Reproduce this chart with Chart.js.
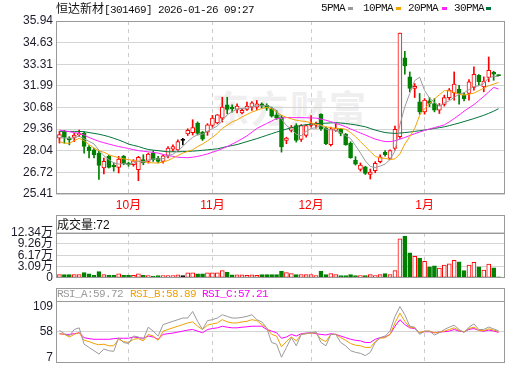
<!DOCTYPE html>
<html>
<head>
<meta charset="utf-8">
<script src="https://cdn.jsdelivr.net/npm/chart.js@4.4.1/dist/chart.umd.min.js"></script>
<style>
  body { margin: 0; width: 520px; height: 365px; position: relative; overflow: hidden; background: #fff; }
  canvas { position: absolute; left: 0; }
  .t { position: absolute; white-space: nowrap; font-size: 12px; line-height: 14px; color: #111; }
  .cjk { font-family: "Noto Sans CJK SC", sans-serif; }
  .mono { font-family: "Liberation Mono", monospace; font-size: 11px; letter-spacing: -0.6px; }
  .sw { position: absolute; width: 5px; height: 3px; }
  .wm { position: absolute; left: 212px; top: 80px; font-family: "Noto Sans CJK SC", sans-serif;
        font-size: 37px; font-weight: bold; color: #efefef; letter-spacing: 2px; }
</style>
</head>
<body>
<div class="wm">东方财富</div>
<canvas id="kline" width="520" height="215" style="top:0;width:520px;height:215px"></canvas>
<canvas id="vol" width="520" height="78" style="top:210px;width:520px;height:78px"></canvas>
<canvas id="rsi" width="520" height="88" style="top:285px;width:520px;height:88px"></canvas>

<div class="t" style="left:56px;top:1px"><span class="cjk">恒达新材</span><span class="mono">[301469] 2026-01-26 09:27</span></div>
<div class="t mono" style="left:321px;top:1px">5PMA</div><div class="sw" style="left:348px;top:7px;background:#9a9a9a"></div>
<div class="t mono" style="left:363px;top:1px">10PMA</div><div class="sw" style="left:396px;top:7px;background:#f5a300"></div>
<div class="t mono" style="left:408px;top:1px">20PMA</div><div class="sw" style="left:442px;top:7px;background:#ff22ff"></div>
<div class="t mono" style="left:454px;top:1px">30PMA</div><div class="sw" style="left:486px;top:7px;background:#00743a"></div>

<div class="t" style="left:57px;top:217px"><span class="cjk">成交量</span><span style="font-family:'Liberation Sans',sans-serif">:72</span></div>
<div class="t mono" style="left:57px;top:287px;color:#999">RSI_A:59.72</div>
<div class="t mono" style="left:130px;top:287px;color:#f0a000">RSI_B:58.89</div>
<div class="t mono" style="left:202px;top:287px;color:#ff00ff">RSI_C:57.21</div>

<script>
// month ticks (bar index of first trading day)
const monthIdx = [14, 31, 51, 74];
const monthLabels = ['10月', '11月', '12月', '1月'];
const priceTicks = [25.41, 26.72, 28.04, 29.36, 30.68, 31.99, 33.31, 34.63, 35.94];
const volTicks = [0, 3.09, 6.17, 9.26, 12.34];
const rsiTicks = [7, 58, 109];

// daily candles
const open = [28.81,29.2,28.82,28.85,29.0,29.1,28.27,28.1,27.9,26.99,
  27.7,27.15,27.03,27.7,27.29,27.19,26.89,27.5,27.4,27.9,
  27.6,27.4,27.76,28.14,28.1,28.67,29.06,29.15,29.72,29.18,
  29.18,29.58,29.74,30.03,30.84,30.7,30.56,30.35,30.56,30.7,
  30.7,30.9,30.8,30.6,30.23,30.09,28.67,29.28,29.58,28.73,
  28.97,29.58,29.6,30.27,29.42,28.41,29.28,29.35,29.05,28.49,
  27.48,26.9,27.07,26.6,26.83,27.38,27.95,27.58,28.19,28.9,
  33.7,32.54,31.83,31.02,30.41,31.08,30.92,30.51,30.86,31.28,
  31.57,31.79,31.43,31.53,31.89,32.64,31.93,32.5,32.82,32.66];
const close = [29.02,28.85,28.7,29.0,29.1,28.3,28.04,27.8,27.15,27.4,
  27.03,27.06,27.54,27.25,27.19,27.43,27.64,27.3,27.84,27.5,
  27.4,27.74,28.2,28.3,28.6,28.67,29.28,29.46,29.1,28.75,
  29.62,30.03,30.23,30.7,30.56,30.6,30.76,30.5,30.76,30.96,
  30.9,30.76,30.64,30.15,30.03,28.27,28.81,29.48,28.67,29.58,
  29.58,29.69,29.7,29.38,28.47,29.38,29.42,29.1,28.41,27.62,
  27.23,27.17,26.67,26.75,27.27,27.68,27.8,28.06,29.35,35.2,
  33.2,31.83,31.97,30.41,31.12,30.92,30.51,30.82,31.28,31.73,
  32.1,31.53,31.22,32.24,32.7,32.24,32.28,32.94,32.7,32.62];
const high = [29.22,29.28,28.9,29.1,29.3,29.2,28.35,28.2,28.0,27.6,
  27.76,27.3,27.7,27.76,27.35,27.5,27.7,27.8,27.9,28.04,
  27.7,27.8,28.3,28.4,28.7,28.8,29.38,29.93,29.8,29.22,
  29.69,30.19,30.25,31.3,31.3,30.84,30.9,30.6,31.0,31.04,
  31.1,30.96,30.9,30.7,30.5,30.19,28.87,29.58,29.69,29.64,
  29.62,30.19,29.79,30.29,29.48,29.48,29.69,29.4,29.1,28.59,
  27.68,27.3,27.1,26.93,27.38,27.8,28.05,28.1,29.55,35.2,
  34.1,32.84,32.13,31.53,31.22,31.28,31.22,30.92,31.43,31.83,
  32.84,32.03,31.57,32.38,33.15,32.68,32.54,33.75,32.88,32.66];
const low = [28.51,28.5,28.4,28.6,28.9,27.9,27.6,27.6,26.3,26.63,
  26.99,26.8,26.69,27.19,27.1,27.1,26.22,27.19,27.29,27.39,
  27.3,27.29,27.6,28.0,28.0,28.4,28.97,29.0,29.0,28.67,
  28.98,29.48,29.68,29.79,30.29,30.39,30.35,30.29,30.5,30.49,
  30.55,30.64,30.5,30.09,29.95,27.96,28.47,29.18,28.57,28.61,
  28.87,29.48,29.42,29.28,28.41,28.33,29.22,28.95,28.37,27.58,
  27.17,26.8,26.6,26.32,26.7,27.3,27.72,27.5,28.08,28.8,
  32.7,31.63,31.28,30.27,30.27,30.72,30.41,30.31,30.76,31.16,
  31.12,30.88,31.08,31.12,31.73,32.03,31.63,32.24,32.33,32.6];

// moving averages as drawn
const ma5 = [28.85,28.82,28.8,28.83,28.93,28.77,28.61,28.46,28.08,27.74,
  27.5,27.31,27.23,27.26,27.21,27.29,27.41,27.36,27.48,27.54,
  27.54,27.56,27.74,27.83,28.05,28.3,28.61,28.86,29.02,29.05,
  29.24,29.39,29.55,29.87,30.23,30.42,30.57,30.62,30.64,30.72,
  30.78,30.78,30.8,30.68,30.5,29.97,29.58,29.35,29.05,28.96,
  29.22,29.4,29.44,29.59,29.36,29.32,29.27,29.15,28.96,28.79,
  28.36,27.91,27.42,27.09,27.02,27.11,27.23,27.51,28.03,29.62,
  30.72,31.53,32.31,32.52,31.71,31.25,30.99,30.76,30.96,31.08,
  31.29,31.49,31.57,31.76,31.96,31.99,32.14,32.48,32.57,32.56];
const ma10 = [28.6,28.5,28.5,28.65,28.8,28.65,28.41,28.2,28.05,27.95,
  27.8,27.7,27.62,27.55,27.5,27.45,27.4,27.38,27.33,27.3,
  27.3,27.35,27.45,27.6,27.75,27.9,28.0,28.1,28.3,28.45,
  28.65,28.85,29.1,29.4,29.6,29.8,29.92,30.1,30.25,30.4,
  30.5,30.62,30.68,30.6,30.4,30.2,30.08,29.98,29.9,29.85,
  29.82,29.75,29.65,29.6,29.5,29.45,29.4,29.4,29.35,29.15,
  28.9,28.6,28.3,28.0,27.7,27.6,27.58,27.5,27.55,27.85,
  28.45,28.9,29.4,30.2,30.6,30.92,31.2,31.45,31.7,31.68,
  31.6,31.48,31.43,31.48,31.55,31.7,31.85,32.0,32.1,32.2];
const ma20 = [29.3,29.25,29.2,29.15,29.1,29.0,28.85,28.73,28.62,28.53,
  28.45,28.37,28.3,28.24,28.18,28.11,28.05,28.01,27.98,27.94,
  27.9,27.82,27.75,27.7,27.65,27.63,27.62,27.65,27.7,27.77,
  27.85,27.95,28.05,28.17,28.3,28.45,28.6,28.77,28.95,29.17,
  29.4,29.55,29.7,29.85,30.0,30.03,30.06,30.06,30.06,30.06,
  30.05,30.04,30.03,29.97,29.9,29.81,29.72,29.61,29.5,29.37,
  29.25,29.12,29.0,28.87,28.75,28.67,28.6,28.6,28.65,28.75,
  28.85,28.97,29.08,29.18,29.28,29.37,29.45,29.53,29.62,29.8,
  30.0,30.22,30.45,30.65,30.85,31.1,31.35,31.62,31.9,31.8];
const ma30 = [29.22,29.22,29.22,29.22,29.22,29.2,29.15,29.1,29.05,28.98,
  28.9,28.8,28.7,28.58,28.45,28.37,28.3,28.2,28.12,28.08,
  28.05,28.01,27.98,27.98,27.98,27.99,28.0,28.02,28.04,28.07,
  28.1,28.13,28.16,28.23,28.3,28.36,28.42,28.51,28.6,28.69,
  28.78,28.88,28.98,29.08,29.18,29.27,29.36,29.44,29.52,29.58,
  29.63,29.66,29.69,29.71,29.72,29.74,29.75,29.73,29.7,29.66,
  29.62,29.56,29.5,29.4,29.3,29.22,29.15,29.12,29.1,29.12,
  29.15,29.18,29.22,29.26,29.3,29.35,29.4,29.45,29.5,29.57,
  29.65,29.73,29.82,29.91,30.0,30.1,30.2,30.32,30.45,30.6];

// volume, in 万
const vol = [0.89,0.89,0.89,0.89,0.89,1.42,1.07,0.71,1.69,0.89,
  0.71,0.71,1.07,0.71,0.71,0.71,1.07,0.71,0.62,0.44,
  0.62,0.62,0.62,0.62,0.8,0.62,1.33,1.33,1.07,1.07,
  1.33,1.33,1.33,1.95,1.51,0.8,0.8,0.8,0.71,0.8,
  0.71,0.89,0.89,0.89,0.89,1.78,1.42,1.15,0.89,0.89,
  0.89,0.89,0.62,1.78,0.89,1.15,0.89,0.62,0.62,0.89,
  0.62,0.62,0.62,0.89,0.62,0.89,1.15,0.89,1.95,10.66,
  11.37,6.84,5.86,5.42,4.53,3.02,3.29,2.66,3.46,3.82,
  4.8,4.35,1.95,3.46,4.26,3.02,2.13,3.73,2.75,0.0072];

// RSI lines
const rsiA = [60.4,55.0,51.2,62.0,64.7,37.7,32.3,27.0,21.6,29.7,
  27.0,25.9,48.5,40.5,38.8,51.2,49.6,45.8,65.8,59.3,
  51.2,70.1,72.8,75.5,78.2,80.9,80.9,91.7,75.5,62.0,
  76.6,78.2,80.9,86.3,83.6,80.9,80.9,82.0,83.6,86.3,
  78.2,74.5,64.7,40.5,37.7,16.2,32.3,48.5,35.1,53.9,
  55.0,56.6,58.3,40.5,35.1,53.9,53.9,40.5,35.1,27.0,
  24.3,22.6,18.9,24.3,40.5,48.5,51.2,59.3,83.6,99.8,
  86.3,67.4,65.8,53.9,59.3,59.3,52.9,56.6,62.0,65.8,
  69.1,62.0,56.6,65.8,71.2,62.0,62.0,66.0,63.0,59.72];
const rsiB = [55.0,53.9,49.6,53.9,56.6,44.2,42.1,38.8,36.7,37.7,
  35.1,35.1,45.8,42.1,40.5,45.8,46.9,43.2,53.9,51.2,
  44.2,59.3,62.0,64.7,67.4,70.1,72.8,74.5,67.4,62.0,
  69.1,71.2,72.8,78.2,74.5,72.8,72.8,74.5,75.5,78.2,
  76.6,70.1,64.7,53.9,51.2,33.4,42.1,49.6,43.2,53.9,
  55.0,56.1,56.6,45.8,42.1,53.9,53.9,48.5,44.2,38.8,
  36.1,35.1,32.3,32.3,42.1,47.5,48.5,53.9,72.8,89.0,
  75.5,65.8,64.7,56.6,59.3,59.3,56.6,57.7,59.3,62.0,
  64.7,60.4,58.3,63.6,65.8,60.4,60.0,63.0,61.0,58.89];
const rsiC = [55.0,53.9,53.9,55.0,56.6,48.5,46.9,45.8,45.8,45.8,
  45.8,46.9,47.5,47.5,47.5,49.6,48.5,47.5,51.2,49.6,
  45.8,53.9,55.0,56.1,57.7,59.3,61.0,62.0,59.3,56.6,
  62.0,63.6,64.7,67.4,65.8,64.7,64.7,65.8,66.4,67.4,
  67.4,67.4,62.0,59.3,56.6,47.5,49.6,53.9,51.2,55.0,
  56.1,56.6,55.0,53.9,52.9,55.0,53.9,51.2,48.5,45.8,
  44.2,43.2,40.5,40.5,45.8,48.5,49.6,53.9,67.4,78.2,
  70.1,64.7,63.6,56.6,58.3,58.3,56.6,57.7,58.3,59.3,
  62.0,59.3,58.3,62.0,63.6,60.4,59.0,61.0,59.5,57.21];

const RED = '#ff0000', GREEN = '#008000';
const font = { family: '"Liberation Sans", "Noto Sans CJK SC", sans-serif', size: 12 };
const up = open.map((o, i) => close[i] > o);
const flat = open.map((o, i) => close[i] === o);
const lineColor = up.map((u, i) => flat[i] ? '#000' : (u ? RED : GREEN));
const fillColor = up.map((u, i) => flat[i] ? '#000' : (u ? '#fff' : GREEN));
const pts = arr => arr.map((v, i) => ({ x: i, y: v }));

// frame around each panel
const frame = {
  id: 'frame',
  afterDraw(chart, args, opts) {
    const a = chart.chartArea, c = chart.ctx;
    const top = opts.top != null ? opts.top : a.top;
    const L = Math.round(a.left) + 0.5, R = Math.round(a.right) - 0.5;
    const T = Math.round(top) + 0.5, B = Math.round(a.bottom) - 0.5;
    c.save();
    c.strokeStyle = '#999';
    c.lineWidth = 1;
    c.strokeRect(L, T, R - L, B - T);
    if (opts.top != null) {
      c.beginPath();
      c.moveTo(L, Math.round(a.top) + 0.5);
      c.lineTo(R, Math.round(a.top) + 0.5);
      c.stroke();
    }
    c.restore();
  }
};

function xAxis(showLabels) {
  return {
    type: 'linear', min: -0.7, max: 90.3, offset: false,
    afterBuildTicks: s => { s.ticks = monthIdx.map(v => ({ value: v })); },
    afterFit: s => { s.height = showLabels ? 21 : 0; },
    grid: { color: '#cccccc', drawTicks: false, offset: false },
    border: { display: false, dash: [4, 4] },
    ticks: {
      display: showLabels, color: RED, font, padding: 4,
      autoSkip: false, maxRotation: 0,
      callback: (v, i) => monthLabels[i]
    }
  };
}

function yAxis(min, max, ticks, fmt, extra) {
  return Object.assign({
    min, max,
    afterBuildTicks: s => { s.ticks = ticks.map(v => ({ value: v })); },
    afterFit: s => { s.width = 56; },
    grid: { color: '#d4d4d4', drawTicks: false },
    border: { display: false },
    ticks: { color: '#1c1c2c', font, padding: 3, autoSkip: false, callback: fmt }
  }, extra || {});
}

const base = {
  responsive: false, devicePixelRatio: 1, animation: false, events: [],
  plugins: { legend: { display: false }, tooltip: { enabled: false } }
};

// main K-line
new Chart(document.getElementById('kline'), {
  type: 'bar',
  data: {
    datasets: [
      { type: 'line', data: pts(ma5), borderColor: '#9a9a9a', borderWidth: 1, pointRadius: 0, order: 0 },
      { type: 'line', data: pts(ma10), borderColor: '#f5a300', borderWidth: 1, pointRadius: 0, order: 0 },
      { type: 'line', data: pts(ma20), borderColor: '#ff22ff', borderWidth: 1, pointRadius: 0, order: 0 },
      { type: 'line', data: pts(ma30), borderColor: '#00743a', borderWidth: 1, pointRadius: 0, order: 0 },
      {
        data: open.map((o, i) => ({ x: i, y: [o, close[i]] })),
        backgroundColor: fillColor, borderColor: lineColor, borderWidth: 1,
        borderSkipped: false, barThickness: 4, minBarLength: 1, grouped: false, order: 2
      },
      {
        data: low.map((l, i) => ({ x: i, y: [l, high[i]] })),
        backgroundColor: lineColor, borderWidth: 0, barThickness: 1,
        grouped: false, order: 3
      }
    ]
  },
  options: Object.assign({}, base, {
    layout: { padding: { top: 21, right: 15, left: 0, bottom: 0 } },
    plugins: Object.assign({}, base.plugins, { frame: {} }),
    scales: {
      x: xAxis(true),
      y: yAxis(25.41, 35.94, priceTicks, v => v.toFixed(2))
    }
  }),
  plugins: [frame]
});

// volume
new Chart(document.getElementById('vol'), {
  type: 'bar',
  data: {
    datasets: [{
      data: vol.map((v, i) => ({ x: i, y: v })),
      backgroundColor: fillColor, borderColor: lineColor, borderWidth: 1,
      borderSkipped: false, barThickness: 4, minBarLength: 1
    }]
  },
  options: Object.assign({}, base, {
    layout: { padding: { top: 22.7, right: 15, left: 0, bottom: 9 } },
    plugins: Object.assign({}, base.plugins, { frame: { top: 5 } }),
    scales: {
      x: xAxis(false),
      y: yAxis(0, 12.34, volTicks, v => v === 0 ? '0' : v.toFixed(2) + '万')
    }
  }),
  plugins: [frame]
});

// RSI
new Chart(document.getElementById('rsi'), {
  type: 'line',
  data: {
    datasets: [
      { data: pts(rsiA), borderColor: '#9a9a9a', borderWidth: 1, pointRadius: 0 },
      { data: pts(rsiB), borderColor: '#f0a000', borderWidth: 1, pointRadius: 0 },
      { data: pts(rsiC), borderColor: '#ff00ff', borderWidth: 1, pointRadius: 0 }
    ]
  },
  options: Object.assign({}, base, {
    layout: { padding: { top: 16, right: 15, left: 0, bottom: 9 } },
    plugins: Object.assign({}, base.plugins, { frame: { top: 3 } }),
    scales: {
      x: xAxis(false),
      y: { display: false, min: 7, max: 109 },
      y2: yAxis(-4.27, 120.27, rsiTicks, v => String(v), {
        position: 'left',
        grid: { drawTicks: false, color: c => (c.tick && c.tick.value === 58) ? '#d4d4d4' : 'rgba(0,0,0,0)' }
      })
    }
  }),
  plugins: [frame]
});
</script>
</body>
</html>
